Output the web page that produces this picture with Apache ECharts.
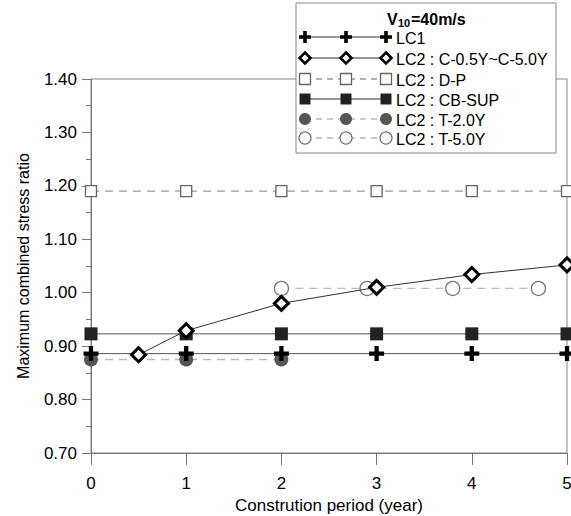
<!DOCTYPE html>
<html><head><meta charset="utf-8">
<script src="https://cdn.jsdelivr.net/npm/echarts@6/dist/echarts.min.js"></script>
<style>html,body{margin:0;padding:0;background:#fff}#c{width:571px;height:516px}</style>
</head><body><div id="c"></div>
<script>
// ---- data ----
const seriesNames = ['LC1', 'LC2 : C-0.5Y~C-5.0Y', 'LC2 : D-P', 'LC2 : CB-SUP', 'LC2 : T-2.0Y', 'LC2 : T-5.0Y'];
const lc1X = [0, 1, 2, 3, 4, 5];
const lc1Y = [0.886, 0.886, 0.886, 0.886, 0.886, 0.886];
const cX = [0.5, 1, 2, 3, 4, 5];
const cY = [0.884, 0.929, 0.980, 1.010, 1.034, 1.052];
const dpX = [0, 1, 2, 3, 4, 5];
const dpY = [1.19, 1.19, 1.19, 1.19, 1.19, 1.19];
const cbX = [0, 1, 2, 3, 4, 5];
const cbY = [0.923, 0.923, 0.923, 0.923, 0.923, 0.923];
const t2X = [0, 1, 2];
const t2Y = [0.875, 0.875, 0.875];
const t5X = [2, 2.9, 3.8, 4.7];
const t5Y = [1.008, 1.008, 1.008, 1.008];
const xTicks = [0, 1, 2, 3, 4, 5];
const yTicks = [0.70, 0.80, 0.90, 1.00, 1.10, 1.20, 1.30, 1.40];

const pairs = (xs, ys) => xs.map((x, i) => [x, ys[i]]);
const PLUS = 'path://M5,0H9V5H14V9H9V14H5V9H0V5H5Z';
const FONT = 'Liberation Sans, Arial, sans-serif';

const styles = [
  {symbol: PLUS, size: 15, fill: '#000', stroke: '#000', bw: 0, line: '#555', lw: 1, type: 'solid', z: 6},
  {symbol: 'diamond', size: 14, fill: '#fff', stroke: '#000', bw: 3, line: '#333', lw: 1, type: 'solid', z: 7},
  {symbol: 'rect', size: 11, fill: '#fff', stroke: '#666', bw: 1.3, line: '#999', lw: 1.3, type: [8, 6], z: 3},
  {symbol: 'rect', size: 13, fill: '#222', stroke: '#222', bw: 0, line: '#555', lw: 1, type: 'solid', z: 4},
  {symbol: 'circle', size: 14, fill: '#555', stroke: '#555', bw: 0, line: '#bbb', lw: 1.3, type: [8, 6], z: 2},
  {symbol: 'circle', size: 14, fill: '#fff', stroke: '#777', bw: 1.3, line: '#bbb', lw: 1.3, type: [8, 6], z: 3}
];
const datasets = [pairs(lc1X, lc1Y), pairs(cX, cY), pairs(dpX, dpY), pairs(cbX, cbY), pairs(t2X, t2Y), pairs(t5X, t5Y)];

const series = seriesNames.map((n, i) => {
  const s = styles[i];
  return {
    name: n, type: 'line', data: datasets[i], clip: false, z: s.z,
    symbol: s.symbol, symbolSize: s.size, showAllSymbol: true,
    itemStyle: {color: s.fill, borderColor: s.stroke, borderWidth: s.bw, opacity: 1},
    lineStyle: {color: s.line, width: s.lw, type: s.type},
    emphasis: {disabled: true}, animation: false
  };
});

// ---- legend drawn as graphic ----
const lgLeft = 296, lgTop = 3, lgW = 260, lgH = 150;
const rowY = [37, 58, 79, 99, 119, 138];
const mkX = [305, 346, 386];
const graphics = [{
  type: 'rect', shape: {x: lgLeft, y: lgTop, width: lgW, height: lgH},
  style: {fill: '#fff', stroke: '#888', lineWidth: 1}, z: 100
},
{type: 'text', x: 387, y: 19, z: 101, style: {text: 'V', fontSize: 16, fontWeight: 'bold', fontFamily: FONT, fill: '#000', verticalAlign: 'middle', align: 'left'}},
{type: 'text', x: 398, y: 23, z: 101, style: {text: '10', fontSize: 11, fontWeight: 'bold', fontFamily: FONT, fill: '#000', verticalAlign: 'middle', align: 'left'}},
{type: 'text', x: 411, y: 19, z: 101, style: {text: '=40m/s', fontSize: 16, fontWeight: 'bold', fontFamily: FONT, fill: '#000', verticalAlign: 'middle', align: 'left'}}
];
function marker(i, cx, cy) {
  const s = styles[i];
  if (i === 0) {
    const a = 6, b = 1.8;
    return {type: 'polygon', z: 103, shape: {points: [
      [cx - b, cy - a], [cx + b, cy - a], [cx + b, cy - b], [cx + a, cy - b], [cx + a, cy + b], [cx + b, cy + b],
      [cx + b, cy + a], [cx - b, cy + a], [cx - b, cy + b], [cx - a, cy + b], [cx - a, cy - b], [cx - b, cy - b]]},
      style: {fill: '#000'}};
  }
  if (i === 1) {
    return {type: 'polygon', z: 103, shape: {points: [[cx, cy - 5.5], [cx + 5.5, cy], [cx, cy + 5.5], [cx - 5.5, cy]]}, style: {fill: '#fff', stroke: '#000', lineWidth: 2.6}};
  }
  if (i === 2 || i === 3) {
    const h = 5.5;
    return {type: 'rect', z: 103, shape: {x: cx - h, y: cy - h, width: 2 * h, height: 2 * h}, style: {fill: s.fill, stroke: s.stroke, lineWidth: s.bw}};
  }
  return {type: 'circle', z: 103, shape: {cx: cx, cy: cy, r: 6}, style: {fill: s.fill, stroke: s.stroke, lineWidth: s.bw}};
}
seriesNames.forEach((n, i) => {
  const s = styles[i];
  const y = rowY[i];
  graphics.push({type: 'line', z: 102, shape: {x1: mkX[0], y1: y, x2: mkX[2], y2: y},
    style: {stroke: s.line === '#555' ? '#333' : s.line, lineWidth: s.lw, lineDash: Array.isArray(s.type) ? [6, 5] : null}});
  mkX.forEach(x => graphics.push(marker(i, x, y)));
  graphics.push({type: 'text', z: 103, x: 396, y: y + 1,
    style: {text: n, fontSize: 16, fontFamily: FONT, fill: '#000', verticalAlign: 'middle', align: 'left'}});
});

const chart = echarts.init(document.getElementById('c'), null, {renderer: 'svg'});
chart.setOption({
  animation: false,
  backgroundColor: '#fff',
  grid: {left: 91, right: 4, top: 79, bottom: 63, show: true, borderColor: '#888', borderWidth: 1,
    backgroundColor: 'transparent', containLabel: false, outerBoundsMode: 'none'},
  xAxis: {
    type: 'value', min: xTicks[0], max: xTicks[xTicks.length - 1], interval: 1,
    name: 'Constrution period (year)', nameLocation: 'middle', nameGap: 41,
    nameTextStyle: {fontSize: 17, fontFamily: FONT, color: '#000'},
    axisLine: {show: true, lineStyle: {color: '#777', width: 1}},
    axisTick: {show: true, length: 12, lineStyle: {color: '#777'}},
    axisLabel: {fontSize: 17, fontFamily: FONT, color: '#000', margin: 22},
    splitLine: {show: false}
  },
  yAxis: {
    type: 'value', min: yTicks[0], max: yTicks[yTicks.length - 1], interval: 0.1,
    name: 'Maximum combined stress ratio', nameLocation: 'middle', nameGap: 60,
    nameTextStyle: {fontSize: 16, fontFamily: FONT, color: '#000'},
    axisLine: {show: true, lineStyle: {color: '#777', width: 1}},
    axisTick: {show: true, length: 9, lineStyle: {color: '#777'}},
    minorTick: {show: true, splitNumber: 2, length: 5, lineStyle: {color: '#777'}},
    axisLabel: {fontSize: 17, fontFamily: FONT, color: '#000', margin: 14, formatter: v => v.toFixed(2)},
    splitLine: {show: false}
  },
  series: series,
  graphic: graphics
});
</script>
</body></html>
